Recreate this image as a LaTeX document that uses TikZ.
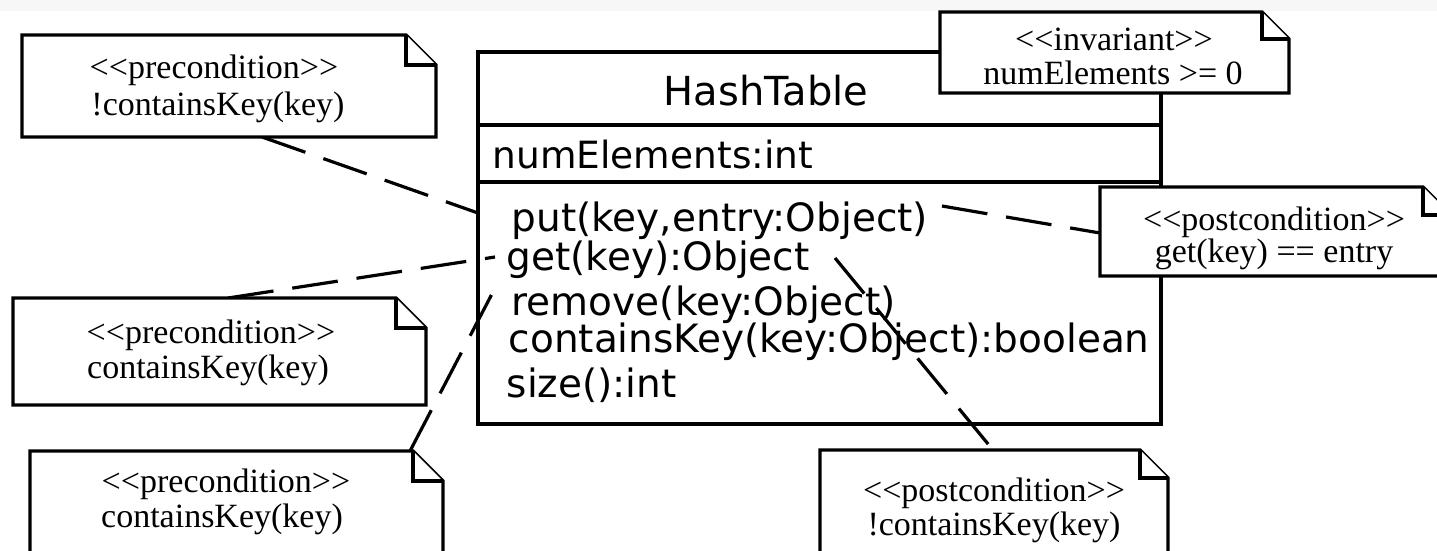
\documentclass[tikz,border=0pt]{standalone}
\usepackage{fontspec}
\setmainfont{Liberation Serif}
\newfontfamily\umlsans{DejaVu Sans}
\usetikzlibrary{calc}
\newcommand\umlnote[6]{%
  % name, x1, y1, x2, y2, fold
  \filldraw[notebox] (#2,#3) -- ($(#4,#3)+(-#6,0)$) -- ($(#4,#3)+(0,#6)$) -- (#4,#5) -- (#2,#5) -- cycle;
  \node[inner sep=0pt, outer sep=0pt, minimum width={#4-#2}, minimum height={#5-#3}, anchor=north west] (#1) at (#2,#3) {};
  \draw[notebox] ($(#1.north east)+(-#6,0)$) |- ($(#1.north east)+(0,#6)$);
}
\begin{document}
\begin{tikzpicture}[x=1pt,y=-1pt,
  line width=3.4pt, line join=miter,
  notebox/.style={fill=white, draw=black, line width=3.4pt, line join=miter},
  notetext/.style={font=\fontsize{34}{36}\selectfont, anchor=base, inner sep=0pt},
  optext/.style={font=\umlsans\fontsize{39}{44}\selectfont, anchor=base west, inner sep=0pt},
  conn/.style={line width=3.2pt, dash pattern=on 46pt off 19pt},
]
\useasboundingbox (0,0) rectangle (1437,550);
\fill[gray!6] (0,0) rectangle (1437,11);

% class box
\node[draw, line width=3.4pt, inner sep=0pt, outer sep=0pt, minimum width=683pt, minimum height=372pt, anchor=north west] (cls) at (478,52) {};
\draw (cls.west |- 0,125) -- (cls.east |- 0,125);
\draw (cls.west |- 0,182) -- (cls.east |- 0,182);
\node[font=\umlsans\fontsize{40}{44}\selectfont, anchor=base, inner sep=0pt] (title) at (766,105) {HashTable};
\node[optext, font=\umlsans\fontsize{37.5}{44}\selectfont] (attr) at (491,168) {numElements:int};
\node[optext] (op1) at (510,231) {put(key,entry:Object)};
\node[optext] (op2) at (505,270) {get(key):Object};
\node[optext] (op3) at (510,315) {remove(key:Object)};
\node[optext] (op4) at (507,352) {containsKey(key:Object):boolean};
\node[optext] (op5) at (505,397) {size():int};

% connector end points
\coordinate (aOut) at (262,137);
\coordinate (aIn)  at (478,213);
\coordinate (dOut) at (228,298);
\coordinate (dIn)  at (495,257);
\coordinate (eOut) at (410,451);
\coordinate (eIn)  at (494,290);
\coordinate (cOut) at (942,206);
\coordinate (cIn)  at (1100,233);
\coordinate (fOut) at (835,258);
\coordinate (fIn)  at (993,450);

\draw[conn] (aOut) -- (aIn);
\draw[conn] (dOut) -- (dIn);
\draw[conn] (eOut) -- (eIn);
\draw[conn] (cOut) -- (cIn);
\draw[conn] (fOut) -- (fIn);

% notes
\umlnote{nA}{22}{35}{436}{137}{30}
\node[notetext] (nA1) at (214,78) {<{}<precondition>{}>};
\node[notetext] (nA2) at (218,115) {!containsKey(key)};

\umlnote{nB}{940}{12}{1289}{93}{27}
\node[notetext] (nB1) at (1114,50) {<{}<invariant>{}>};
\node[notetext] (nB2) at (1113,84) {numElements >= 0};

\umlnote{nC}{1100}{187}{1451}{276}{28}
\node[notetext] (nC1) at (1274,230) {<{}<postcondition>{}>};
\node[notetext] (nC2) at (1274,262) {get(key) == entry};

\umlnote{nD}{13}{298}{426}{405}{30}
\node[notetext] (nD1) at (211,343) {<{}<precondition>{}>};
\node[notetext] (nD2) at (208,378) {containsKey(key)};

\umlnote{nE}{30}{451}{443}{580}{30}
\node[notetext] (nE1) at (226,492) {<{}<precondition>{}>};
\node[notetext] (nE2) at (222,527) {containsKey(key)};

\umlnote{nF}{820}{450}{1168}{580}{28}
\node[notetext] (nF1) at (994,501) {<{}<postcondition>{}>};
\node[notetext] (nF2) at (994,535) {!containsKey(key)};
\end{tikzpicture}
\end{document}
